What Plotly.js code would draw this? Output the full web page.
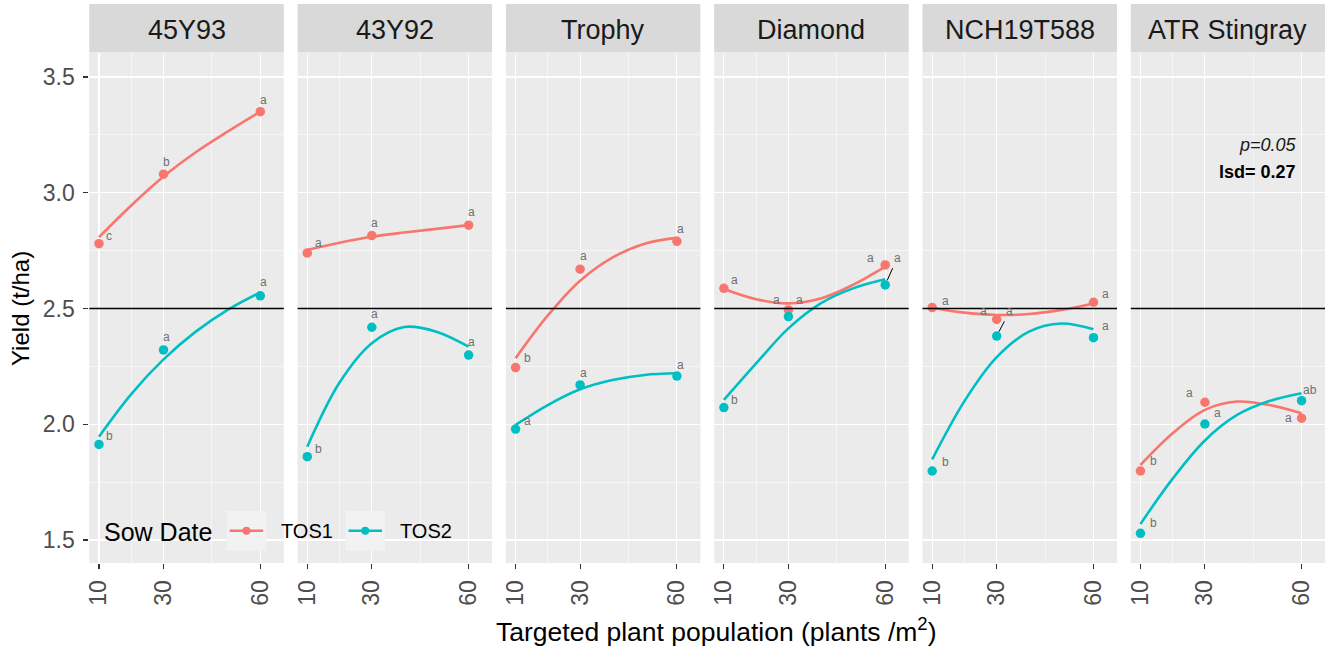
<!DOCTYPE html>
<html>
<head>
<meta charset="utf-8">
<script src="https://cdn.plot.ly/plotly-3.0.1.min.js"></script>
<style>html,body{margin:0;padding:0;background:#fff;}#chart{width:1325px;height:647px;}</style>
</head>
<body>
<div id="chart"></div>
<script>
// ---------------- data ----------------
const cultivars = ['45Y93', '43Y92', 'Trophy', 'Diamond', 'NCH19T588', 'ATR Stingray'];
const sowDates = ['TOS1', 'TOS2'];
const populations = [10, 30, 60];
const xTickLabels = ['10', '30', '60'];
const minorXBreaks = [20, 45];
const yTickVals = [1.5, 2.0, 2.5, 3.0, 3.5];
const yTickLabels = ['1.5', '2.0', '2.5', '3.0', '3.5'];
const minorYBreaks = [1.75, 2.25, 2.75, 3.25];
const referenceYield = 2.5;

// mean yields (t/ha) at 10, 30, 60 plants/m2
const tos1Yield = [
  [2.78, 3.08, 3.35],
  [2.74, 2.815, 2.86],
  [2.245, 2.67, 2.79],
  [2.587, 2.494, 2.688],
  [2.504, 2.453, 2.527],
  [1.798, 2.095, 2.026]
];
const tos2Yield = [
  [1.913, 2.321, 2.555],
  [1.86, 2.419, 2.299],
  [1.979, 2.17, 2.208],
  [2.072, 2.465, 2.602],
  [1.798, 2.381, 2.374],
  [1.529, 2.001, 2.102]
];

// fitted curves
const fitX = [10, 20, 30, 40, 50, 60];
const tos1Fit = [
  [2.808, 2.945, 3.070, 3.175, 3.265, 3.35],
  [2.753, 2.784, 2.810, 2.828, 2.844, 2.86],
  [2.285, 2.470, 2.620, 2.720, 2.780, 2.805],
  [2.584, 2.540, 2.522, 2.543, 2.602, 2.681],
  [2.502, 2.482, 2.472, 2.476, 2.494, 2.522],
  [1.824, 1.961, 2.062, 2.098, 2.083, 2.047]
];
const tos2Fit = [
  [1.946, 2.130, 2.280, 2.400, 2.495, 2.570],
  [1.903, 2.180, 2.350, 2.420, 2.400, 2.335],
  [1.997, 2.083, 2.151, 2.191, 2.213, 2.220],
  [2.105, 2.263, 2.414, 2.522, 2.587, 2.626],
  [1.848, 2.100, 2.290, 2.400, 2.435, 2.410],
  [1.569, 1.765, 1.930, 2.040, 2.100, 2.134]
];

// significance letters
const tos1Letters = [['c','b','a'], ['a','a','a'], ['b','a','a'], ['a','a','a'], ['a','a','a'], ['b','a','a']];
const tos2Letters = [['b','a','a'], ['b','a','a'], ['a','a','a'], ['b','a','a'], ['b','a','a'], ['b','a','ab']];

const pText = 'p=0.05';
const lsdText = 'lsd= 0.27';
const xTitle = 'Targeted plant population (plants /m<sup>2</sup>)';
const yTitle = 'Yield (t/ha)';
const legendTitle = 'Sow Date';

// ---------------- style / layout ----------------
const W = 1325, H = 647;
const FONT = 'Liberation Sans, Arial, sans-serif';
const colors = ['#F8766D', '#00BFC4'];
const px = v => v / W;
const py = v => 1 - v / H;

// label offsets in pixels [dx, dy(down), connector]
const labelOffsets = [
  [[[10,-8],[3,-12],[3,-12]], [[11,-8],[3,-13],[3,-14]]],
  [[[11,-10],[3,-13],[3,-13]], [[11,-8],[3,-13],[3,-13]]],
  [[[12,-10],[3,-13],[4,-12]], [[12,-8],[3,-12],[4,-11]]],
  [[[11,-8],[-12,-10],[-15,-7]], [[11,-8],[11,-17],[12,-27,true]]],
  [[[13,-7],[-13,-8],[12,-8]], [[13,-9],[13,-25,true],[12,-12]]],
  [[[13,-10],[-15,-9],[-13,0]], [[13,-10],[13,-11],[8,-11]]]
];

const panelLeft = 89.3, panelStep = 208.3, panelW = 194.5;
const plotTop = 53, plotBottom = 563;

const traces = [];
const shapes = [];
const annotations = [];
const layout = {
  width: W, height: H,
  margin: {l: 0, r: 0, t: 0, b: 0, pad: 0},
  paper_bgcolor: '#FFFFFF',
  plot_bgcolor: '#EBEBEB',
  showlegend: false,
  font: {family: FONT, color: '#1A1A1A'}
};

cultivars.forEach((name, k) => {
  const s = k === 0 ? '' : String(k + 1);
  const x0 = panelLeft + k * panelStep;
  const x1 = Math.min(x0 + panelW, W);
  layout['xaxis' + s] = {
    domain: [px(x0), px(x1)],
    range: [7.0, 67.28],
    anchor: 'y' + s,
    tickmode: 'array', tickvals: populations, ticktext: xTickLabels,
    ticks: 'outside', ticklen: 5, tickwidth: 1.1, tickcolor: '#333333',
    tickangle: -90, ticklabelstandoff: 2,
    tickfont: {family: FONT, size: 23, color: '#4D4D4D'},
    showgrid: true, gridcolor: '#FFFFFF', gridwidth: 1.1,
    minor: {tickmode: 'array', tickvals: minorXBreaks, showgrid: true, gridcolor: '#FFFFFF', gridwidth: 0.55, ticks: ''},
    zeroline: false, showline: false, automargin: false, fixedrange: true
  };
  layout['yaxis' + s] = {
    domain: [py(plotBottom), py(plotTop)],
    range: [1.4006, 3.6037],
    anchor: 'x' + s,
    tickmode: 'array', tickvals: yTickVals, ticktext: yTickLabels,
    ticks: k === 0 ? 'outside' : '', ticklen: 5, tickwidth: 1.1, tickcolor: '#333333',
    showticklabels: k === 0, ticklabelstandoff: 4,
    tickfont: {family: FONT, size: 23, color: '#4D4D4D'},
    showgrid: true, gridcolor: '#FFFFFF', gridwidth: 1.1,
    minor: {tickmode: 'array', tickvals: minorYBreaks, showgrid: true, gridcolor: '#FFFFFF', gridwidth: 0.55, ticks: ''},
    zeroline: false, showline: false, automargin: false, fixedrange: true
  };

  const xa = 'x' + s, ya = 'y' + s;
  const fits = [tos1Fit[k], tos2Fit[k]];
  const means = [tos1Yield[k], tos2Yield[k]];
  const letters = [tos1Letters[k], tos2Letters[k]];

  sowDates.forEach((sd, j) => {
    traces.push({
      x: fitX, y: fits[j], xaxis: xa, yaxis: ya, mode: 'lines', name: sd,
      line: {color: colors[j], width: 2.6, shape: 'spline', smoothing: 1},
      hoverinfo: 'skip', showlegend: false
    });
  });
  sowDates.forEach((sd, j) => {
    traces.push({
      x: populations, y: means[j], xaxis: xa, yaxis: ya, mode: 'markers', name: sd,
      marker: {color: colors[j], size: 9.5}, showlegend: false
    });
  });

  // letters
  sowDates.forEach((sd, j) => {
    populations.forEach((p, i) => {
      const off = labelOffsets[k][j][i];
      const base = {
        xref: xa, yref: ya, x: p, y: means[j][i], text: letters[j][i],
        font: {family: FONT, size: 12, color: '#707070'},
        xanchor: 'center', yanchor: 'middle'
      };
      if (off[2]) {
        Object.assign(base, {showarrow: true, ax: off[0], ay: off[1], arrowhead: 0,
          arrowwidth: 1, arrowcolor: '#000000', standoff: 5, startstandoff: 2});
      } else {
        Object.assign(base, {showarrow: false, xshift: off[0], yshift: -off[1]});
      }
      annotations.push(base);
    });
  });

  // strip
  shapes.push({type: 'rect', xref: xa + ' domain', x0: 0, x1: 1, yref: 'paper',
    y0: py(52.6), y1: py(4), fillcolor: '#D9D9D9', line: {width: 0}, layer: 'below'});
  annotations.push({xref: xa + ' domain', x: 0.5, yref: 'paper', y: py(30), text: name,
    showarrow: false, xanchor: 'center', yanchor: 'middle',
    font: {family: FONT, size: 27, color: '#1A1A1A'}});

  // reference line
  shapes.push({type: 'line', xref: xa + ' domain', x0: 0, x1: 1, yref: ya,
    y0: referenceYield, y1: referenceYield, line: {color: '#000000', width: 1.4}, layer: 'above'});
});

// p / lsd text in last panel
annotations.push({xref: 'paper', yref: 'paper', x: px(1299), y: py(145), text: '<i>' + pText + '</i>',
  showarrow: false, xanchor: 'right', yanchor: 'middle', font: {family: FONT, size: 18, color: '#1A1A1A'}});
annotations.push({xref: 'paper', yref: 'paper', x: px(1298), y: py(171.5), text: '<b>' + lsdText + '</b>',
  showarrow: false, xanchor: 'right', yanchor: 'middle', font: {family: FONT, size: 18, color: '#000000'}});

// axis titles
annotations.push({xref: 'paper', yref: 'paper', x: px(716), y: py(630), text: xTitle,
  showarrow: false, xanchor: 'center', yanchor: 'middle', font: {family: FONT, size: 26.5, color: '#000000'}});
annotations.push({xref: 'paper', yref: 'paper', x: px(20), y: py(309), text: yTitle, textangle: -90,
  showarrow: false, xanchor: 'center', yanchor: 'middle', font: {family: FONT, size: 24, color: '#000000'}});

// legend (drawn inside panel area)
annotations.push({xref: 'paper', yref: 'paper', x: px(102), y: py(532), text: legendTitle,
  showarrow: false, xanchor: 'left', yanchor: 'middle', font: {family: FONT, size: 25, color: '#000000'}});
const keyLeft = [226.7, 345.5];
const keyTextLeft = [279, 398];
sowDates.forEach((sd, j) => {
  const kx = keyLeft[j];
  shapes.push({type: 'rect', xref: 'paper', yref: 'paper', x0: px(kx), x1: px(kx + 39.5),
    y0: py(550.7), y1: py(511), fillcolor: '#F2F2F2', line: {width: 0}, layer: 'above'});
  shapes.push({type: 'line', xref: 'paper', yref: 'paper', x0: px(kx + 3), x1: px(kx + 36.5),
    y0: py(530.8), y1: py(530.8), line: {color: colors[j], width: 2.6}, layer: 'above'});
  const cx = kx + 19.75;
  shapes.push({type: 'circle', xref: 'paper', yref: 'paper', x0: px(cx - 4), x1: px(cx + 4),
    y0: py(530.8 + 4), y1: py(530.8 - 4), fillcolor: colors[j], line: {width: 0}, layer: 'above'});
  annotations.push({xref: 'paper', yref: 'paper', x: px(keyTextLeft[j]), y: py(531), text: sd,
    showarrow: false, xanchor: 'left', yanchor: 'middle', font: {family: FONT, size: 20, color: '#000000'}});
});

layout.shapes = shapes;
layout.annotations = annotations;

Plotly.newPlot('chart', traces, layout, {displayModeBar: false, staticPlot: true});
</script>
</body>
</html>
